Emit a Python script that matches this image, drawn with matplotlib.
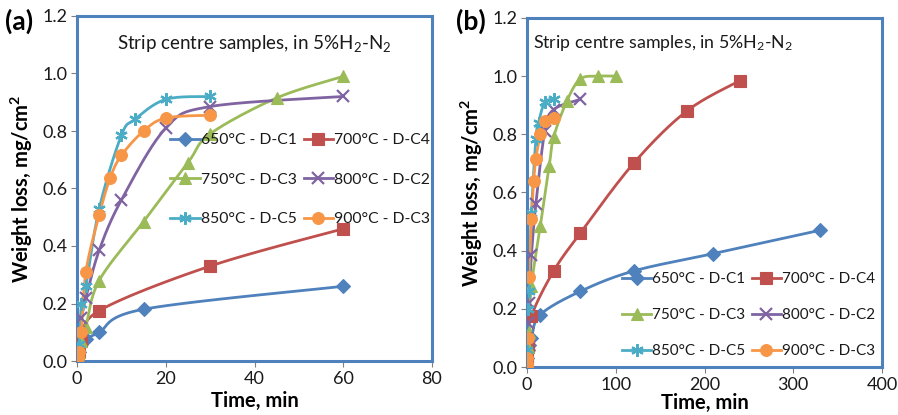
import numpy as np
import matplotlib
matplotlib.use("Agg")
import matplotlib.pyplot as plt
from matplotlib.lines import Line2D

plt.rcParams['font.family'] = ['Lato', 'DejaVu Sans']
plt.rcParams['mathtext.fontset'] = 'custom'
plt.rcParams['mathtext.rm'] = 'Lato'
plt.rcParams['mathtext.it'] = 'Lato:italic'
plt.rcParams['mathtext.bf'] = 'Lato:bold'

# ---------------- data ----------------
labels = ["650°C - D-C1", "700°C - D-C4", "750°C - D-C3",
          "800°C - D-C2", "850°C - D-C5", "900°C - D-C3"]

t650 = [0, 0.5, 1, 2, 5, 15, 60, 120, 210, 330]
w650 = [0, 0.03, 0.06, 0.077, 0.10, 0.18, 0.26, 0.33, 0.39, 0.47]

t700 = [0, 0.5, 1, 5, 30, 60, 120, 180, 240]
w700 = [0, 0.03, 0.07, 0.175, 0.33, 0.46, 0.70, 0.88, 0.985]

t750 = [0, 0.5, 1, 2, 5, 15, 25, 30, 45, 60, 80, 100]
w750 = [0, 0.03, 0.07, 0.12, 0.28, 0.485, 0.69, 0.79, 0.915, 0.99, 1.0, 1.0]

t800 = [0, 0.5, 1, 2, 5, 10, 20, 30, 60]
w800 = [0, 0.10, 0.15, 0.22, 0.385, 0.56, 0.81, 0.885, 0.92]

t850 = [0, 0.5, 1, 2, 5, 10, 13, 20, 30]
w850 = [0, 0.06, 0.20, 0.26, 0.53, 0.785, 0.84, 0.91, 0.92]

t900 = [0, 0.25, 0.5, 1, 2, 5, 7.5, 10, 15, 20, 30]
w900 = [0, 0.01, 0.03, 0.10, 0.31, 0.508, 0.638, 0.715, 0.80, 0.845, 0.855]

series_t = [t650, t700, t750, t800, t850, t900]
series_w = [w650, w700, w750, w800, w850, w900]

# panel (a) shows the first hour only, panel (b) the full runs
tmax_a = 60
tmax_b = 400
xlim_a, xticks_a = (0, 80), [0, 20, 40, 60, 80]
xlim_b, xticks_b = (0, 400), [0, 100, 200, 300, 400]
yticks = [0.0, 0.2, 0.4, 0.6, 0.8, 1.0, 1.2]

colors = ['#4F81BD', '#C0504D', '#9BBB59', '#8064A2', '#4BACC6', '#F79646']
markers = ['D', 's', '^', 'x', (6, 2, 0), 'o']
msizes = [7, 8.5, 9, 8, 9, 8.5]
title_txt = r"Strip centre samples, in 5%H$\mathregular{_2}$-N$\mathregular{_2}$"


def smooth(x, y, n=20):
    """Excel-like smoothed line (uniform Catmull-Rom through the points)."""
    x = np.asarray(x, float)
    y = np.asarray(y, float)
    if len(x) < 3:
        return x, y
    px = np.concatenate([[x[0]], x, [x[-1]]])
    py = np.concatenate([[y[0]], y, [y[-1]]])
    xs, ys = [], []
    s = np.linspace(0, 1, n, endpoint=False)
    for i in range(1, len(px) - 2):
        p0x, p1x, p2x, p3x = px[i - 1], px[i], px[i + 1], px[i + 2]
        p0y, p1y, p2y, p3y = py[i - 1], py[i], py[i + 1], py[i + 2]
        b1x, b1y = p1x + (p2x - p0x) / 6, p1y + (p2y - p0y) / 6
        b2x, b2y = p2x - (p3x - p1x) / 6, p2y - (p3y - p1y) / 6
        xs.append((1 - s) ** 3 * p1x + 3 * (1 - s) ** 2 * s * b1x + 3 * (1 - s) * s ** 2 * b2x + s ** 3 * p2x)
        ys.append((1 - s) ** 3 * p1y + 3 * (1 - s) ** 2 * s * b1y + 3 * (1 - s) * s ** 2 * b2y + s ** 3 * p2y)
    xs.append([x[-1]])
    ys.append([y[-1]])
    return np.concatenate(xs), np.concatenate(ys)


W, H = 898, 415
fig = plt.figure(figsize=(W / 100, H / 100), dpi=100)

frame_col = '#4F81BD'


def make_panel(rect, xlim, xticks, tmax, letter, letter_x, title_xy, title_ha, title_fs,
               leg_xy, leg_fs, leg_spacing, xlabelpad):
    ax = fig.add_axes(rect)
    handles = []
    for t, w, c, m, ms, lab in zip(series_t, series_w, colors, markers, msizes, labels):
        t = np.asarray(t, float)
        w = np.asarray(w, float)
        keep = t <= tmax
        tt, ww = t[keep], w[keep]
        sx, sy = smooth(tt, ww)
        ax.plot(sx, sy, color=c, lw=2.0, solid_capstyle='round', zorder=2)
        mew = 1.6 if m in ('x', (6, 2, 0)) else 0.8
        ax.plot(tt, ww, ls='none', marker=m, ms=ms, color=c, mec=c, mew=mew, zorder=3)
        handles.append(Line2D([0], [0], color=c, lw=2.0, marker=m, ms=ms, mec=c, mew=mew))
    ax.set_xlim(*xlim)
    ax.set_ylim(0, 1.2)
    ax.set_xticks(xticks)
    ax.set_yticks(yticks)
    ax.set_yticklabels([f"{v:.1f}" for v in yticks])
    ax.tick_params(axis='both', direction='out', length=4, width=0.8, color='#808080',
                   labelsize=13, pad=3, labelcolor='#1a1a1a')
    for sp in ax.spines.values():
        sp.set_color(frame_col)
        sp.set_linewidth(2.2)
    ax.set_xlabel("Time, min", fontsize=14.5, fontweight='bold', labelpad=xlabelpad)
    ax.set_ylabel("Weight loss, mg/cm$\\mathregular{^2}$", fontsize=14.5, fontweight='bold', labelpad=5)
    ax.text(title_xy[0], title_xy[1], title_txt, transform=ax.transData, ha=title_ha,
            va='center', fontsize=title_fs, color='#1a1a1a')
    order = [0, 2, 4, 1, 3, 5]
    leg = ax.legend([handles[i] for i in order], [labels[i] for i in order], ncol=2,
                    frameon=False, loc='upper left',
                    bbox_to_anchor=(leg_xy[0] / W, 1 - leg_xy[1] / H),
                    bbox_transform=fig.transFigure, borderaxespad=0, borderpad=0,
                    fontsize=leg_fs, handlelength=1.9, handletextpad=0.05,
                    columnspacing=0.45, labelspacing=leg_spacing)
    for txt in leg.get_texts():
        txt.set_color('#1a1a1a')
    fig.text(letter_x / W, 1 - 21 / H, letter, fontsize=19, fontweight='bold', ha='left', va='center')
    return ax


make_panel([77 / W, 1 - 361 / H, 355 / W, 345 / H], xlim_a, xticks_a, tmax_a, "(a)", 5,
           (40, 1.105), 'center', 13.5, (170, 133), 11.3, 1.64, 3)
make_panel([527 / W, 1 - 367 / H, 355 / W, 349 / H], xlim_b, xticks_b, tmax_b, "(b)", 456,
           (7, 1.113), 'left', 12.8, (622, 272), 11.0, 1.44, 0.5)

fig.savefig("out.png", dpi=100)
